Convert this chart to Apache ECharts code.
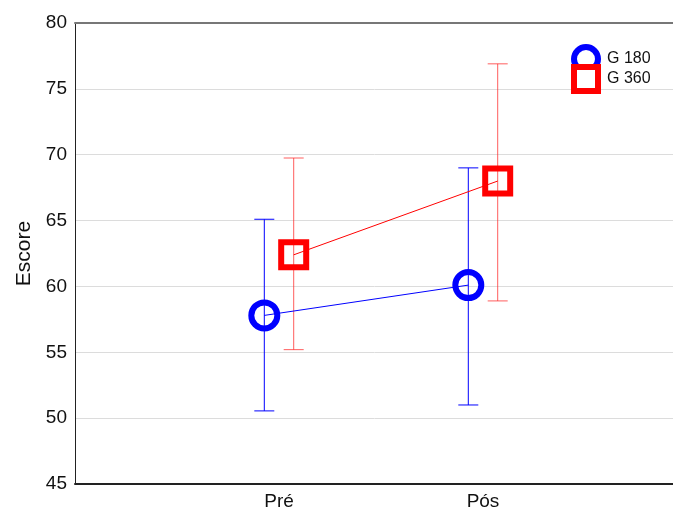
<!DOCTYPE html>
<html>
<head>
<meta charset="utf-8">
<script src="https://cdn.jsdelivr.net/npm/echarts@6/dist/echarts.min.js"></script>
<style>
  html, body { margin: 0; padding: 0; background: #fff; }
  #chart { width: 673px; height: 510px; }
</style>
</head>
<body>
<div id="chart"></div>
<script>
// data
let categories = ["Pré", "Pós"];
let groups = ["G 180", "G 360"];
let g180Mean = [57.8, 60.1];
let g180Low = [50.55, 51.0];
let g180High = [65.1, 69.0];
let g360Mean = [62.4, 68.0];
let g360Low = [55.2, 58.9];
let g360High = [69.75, 76.9];

let dodge = 0.072;
let blue = "#0000ff";
let red = "#ff0000";

let myEchart = echarts.init(document.getElementById("chart"));

function points(means, off) {
	return means.map(function (v, i) { return [i + 1 + off, v]; });
}
function bars(lows, highs, off) {
	return lows.map(function (v, i) { return [i + 1 + off, v, highs[i]]; });
}
function errRender(color) {
	return function (params, api) {
		let x = api.value(0);
		let lo = api.coord([x, api.value(1)]);
		let hi = api.coord([x, api.value(2)]);
		let cap = 10;
		let st = { stroke: color, lineWidth: 1 };
		return {
			type: "group",
			children: [
				{ type: "line", shape: { x1: lo[0], y1: lo[1], x2: hi[0], y2: hi[1] }, style: st },
				{ type: "line", shape: { x1: lo[0] - cap, y1: lo[1], x2: lo[0] + cap, y2: lo[1] }, style: st },
				{ type: "line", shape: { x1: hi[0] - cap, y1: hi[1], x2: hi[0] + cap, y2: hi[1] }, style: st }
			]
		};
	};
}
function legendAt(name, icon, color, top, z) {
	return {
		left: 566,
		top: top,
		z: z,
		itemWidth: 24,
		itemHeight: 24,
		textStyle: { fontSize: 16, color: "#111", padding: [0, 0, 0, 4] },
		data: [{ name: name, icon: icon, itemStyle: { color: "#fff", borderColor: color, borderWidth: 6 } }]
	};
}

let opt = {
	animation: false,
	textStyle: { fontFamily: "Liberation Sans, Arial, sans-serif" },
	grid: { left: 75, width: 612, top: 23, bottom: 26, outerBoundsMode: "none" },
	legend: [
		legendAt(groups[0], "circle", blue, 39, 4),
		legendAt(groups[1], "rect", red, 59, 5)
	],
	xAxis: [
		{
			type: "value",
			min: 0,
			max: 3,
			interval: 1,
			position: "bottom",
			axisLine: { lineStyle: { color: "#222", width: 2 } },
			axisTick: { show: false },
			splitLine: { show: false },
			axisLabel: {
				fontSize: 19,
				color: "#111",
				margin: 8,
				formatter: function (v) { return categories[v - 1] || ""; }
			}
		},
		{
			type: "value",
			min: 0,
			max: 3,
			position: "top",
			axisLine: { show: true, lineStyle: { color: "#777", width: 2 } },
			axisTick: { show: false },
			axisLabel: { show: false },
			splitLine: { show: false }
		}
	],
	yAxis: {
		type: "value",
		min: 45,
		max: 80,
		interval: 5,
		name: "Escore",
		nameLocation: "middle",
		nameGap: 40,
		nameTextStyle: { fontSize: 21, color: "#111" },
		axisLine: { show: true, lineStyle: { color: "#222", width: 1 } },
		axisTick: { show: false },
		axisLabel: { fontSize: 19, color: "#111", margin: 8 },
		splitLine: { lineStyle: { color: "#dcdcdc", width: 1 } }
	},
	series: [
		{
			type: "custom",
			renderItem: errRender(blue),
			data: bars(g180Low, g180High, -dodge),
			encode: { x: 0, y: [1, 2] },
			z: 1
		},
		{
			type: "custom",
			renderItem: errRender("rgba(255,40,40,0.75)"),
			data: bars(g360Low, g360High, dodge),
			encode: { x: 0, y: [1, 2] },
			z: 1
		},
		{
			name: groups[0],
			type: "line",
			data: points(g180Mean, -dodge),
			symbol: "circle",
			symbolSize: 26,
			lineStyle: { color: blue, width: 1 },
			itemStyle: { color: "rgba(255,255,255,0)", borderColor: blue, borderWidth: 6 },
			z: 3
		},
		{
			name: groups[1],
			type: "line",
			data: points(g360Mean, dodge),
			symbol: "rect",
			symbolSize: 25,
			lineStyle: { color: red, width: 1 },
			itemStyle: { color: "rgba(255,255,255,0)", borderColor: red, borderWidth: 6 },
			z: 3
		}
	]
};
myEchart.setOption(opt);
</script>
</body>
</html>
